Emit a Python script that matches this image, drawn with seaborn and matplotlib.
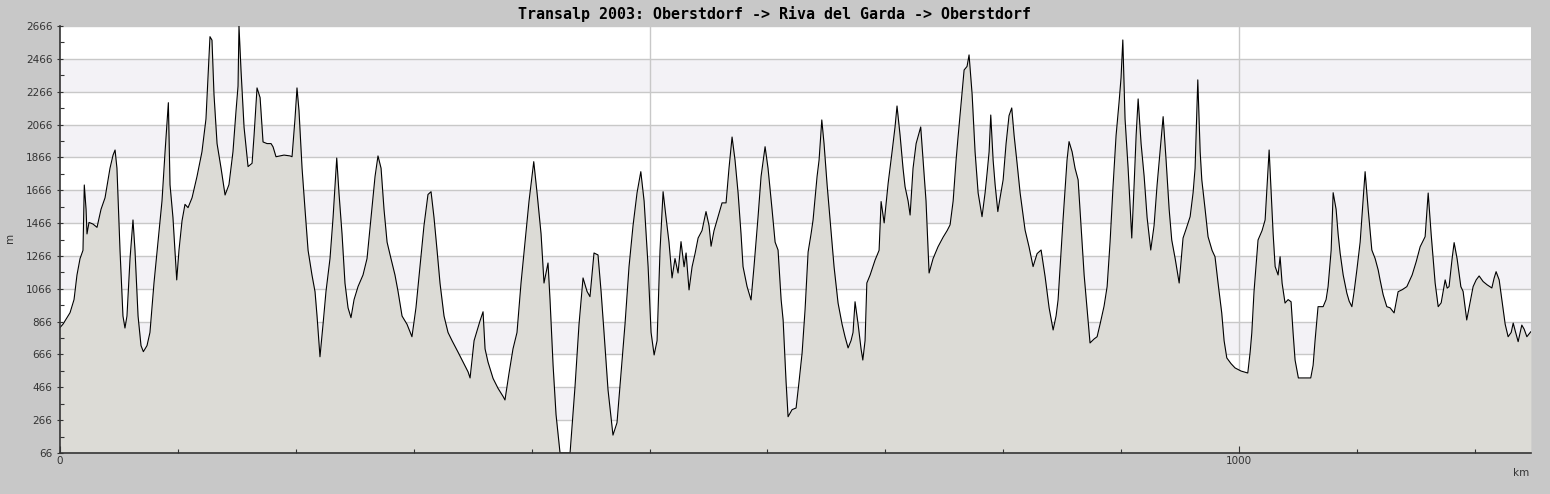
import numpy as np
import pandas as pd
import matplotlib
matplotlib.use("Agg")
import matplotlib.pyplot as plt
import seaborn as sns

# distance along the route (km) and elevation (m)
distance_km = [
    0, 2.5, 5.1, 8.5, 11.9, 14.4, 17.0, 19.5, 20.6, 22.1, 22.9, 24.6, 28.0, 31.4, 34.8, 38.2,
    42.4, 45.0, 46.7, 48.3, 50.9, 53.4, 55.1, 56.8, 59.4, 61.9, 63.6, 66.2, 68.7, 70.7, 73.8,
    76.3, 79.7, 83.1, 86.5, 89.1, 91.9, 93.3, 95.8, 99.0, 100.9, 103.5, 106.0, 108.6, 112.0,
    116.2, 120.4, 123.8, 125.5, 127.2, 128.9, 130.6, 133.2, 136.6, 140.0, 143.3, 146.7, 149.3,
    151.0, 151.8, 153.5, 156.1, 159.5, 162.9, 164.6, 167.1, 169.7, 172.2, 175.6, 179.0, 180.7,
    183.2, 190.0, 195.1, 196.8, 199.3, 201.0, 202.7, 205.3, 207.8, 210.4, 213.7, 216.3, 218.0,
    220.5, 223.1, 225.6, 229.0, 231.6, 234.7, 236.6, 239.2, 241.7, 244.3, 246.8, 249.4, 252.8,
    257.0, 260.4, 263.8, 267.2, 269.7, 272.3, 274.8, 277.4, 280.7, 284.1, 286.7, 290.1, 294.3,
    298.5, 301.9, 305.3, 308.7, 312.1, 314.7, 317.2, 319.8, 322.3, 325.7, 329.1, 332.5, 337.6,
    341.8, 346.1, 347.8, 351.2, 354.5, 356.2, 358.8, 360.5, 363.0, 367.3, 371.5, 375.8, 377.4,
    380.8, 384.2, 387.6, 391.0, 394.4, 397.8, 401.8, 404.6, 408.0, 410.5, 413.9, 415.6, 418.2,
    420.7, 424.1, 432.6, 436.8, 440.2, 443.6, 447.0, 449.5, 452.9, 456.3, 458.9, 461.4, 464.8,
    469.0, 472.4, 475.8, 479.2, 482.6, 486.0, 489.4, 492.6, 495.4, 498.8, 501.3, 503.9, 506.4,
    508.9, 511.5, 514.0, 516.5, 519.1, 521.6, 524.2, 526.7, 529.3, 531.0, 533.5, 536.1, 538.6,
    541.2, 544.5, 547.9, 550.5, 552.2, 554.7, 557.3, 561.5, 564.9, 567.4, 570.0, 572.5, 575.1,
    577.6, 579.3, 582.7, 586.1, 588.6, 592.0, 594.6, 598.0, 600.5, 603.9, 606.5, 609.0, 611.6,
    613.3, 615.8, 617.5, 620.9, 624.3, 626.8, 629.4, 631.9, 634.5, 637.0, 638.7, 642.1, 643.8,
    646.1, 648.0, 650.6, 653.1, 656.5, 659.9, 663.3, 665.8, 668.4, 670.9, 672.6, 674.3, 676.9,
    679.4, 680.9, 682.8, 684.3, 687.1, 691.3, 694.7, 696.4, 699.0, 702.4, 705.7, 708.2, 709.9,
    712.5, 715.0, 716.7, 719.3, 721.0, 723.5, 726.1, 730.0, 732.0, 734.5, 737.1, 740.5, 744.7,
    749.0, 752.4, 754.9, 757.5, 760.0, 761.7, 764.3, 766.8, 769.3, 771.0, 773.6, 776.1, 778.7,
    782.0, 784.6, 786.3, 788.0, 789.4, 791.4, 793.1, 795.4, 797.3, 799.9, 802.4, 804.9, 807.2,
    809.2, 811.7, 814.3, 818.5, 821.9, 825.3, 828.7, 832.1, 835.5, 838.9, 842.3, 844.8, 846.5,
    849.1, 850.7, 852.4, 854.1, 855.8, 858.4, 860.9, 863.5, 866.0, 868.6, 871.9, 873.6, 877.0,
    879.6, 882.1, 885.5, 888.1, 890.6, 893.1, 895.7, 898.2, 899.9, 901.4, 903.3, 905.9, 909.0,
    911.0, 912.7, 914.4, 916.9, 919.5, 922.0, 925.1, 927.9, 930.5, 933.0, 935.6, 938.1, 940.7,
    942.9, 945.8, 949.2, 952.5, 955.1, 958.5, 961.0, 962.7, 965.0, 967.0, 968.4, 971.2, 973.7,
    977.1, 979.6, 982.2, 985.3, 987.3, 989.6, 993.2, 996.6, 1001.7, 1007.4, 1009.4, 1010.8,
    1012.7, 1016.1, 1019.5, 1022.1, 1023.8, 1025.5, 1027.2, 1028.9, 1030.6, 1033.1, 1034.8,
    1036.5, 1039.0, 1041.6, 1044.1, 1045.8, 1047.5, 1050.3, 1060.8, 1062.8, 1064.5, 1067.0,
    1071.3, 1073.8, 1075.5, 1078.1, 1079.8, 1082.3, 1084.0, 1085.7, 1088.3, 1091.4, 1093.4,
    1095.7, 1097.6, 1099.9, 1102.7, 1105.2, 1106.9, 1109.5, 1112.6, 1115.4, 1118.0, 1119.6,
    1122.2, 1125.3, 1128.1, 1131.5, 1134.9, 1138.3, 1142.3, 1146.8, 1150.2, 1153.6, 1157.8,
    1160.4, 1162.9, 1164.6, 1166.3, 1168.9, 1171.4, 1174.8, 1176.5, 1178.1, 1180.7, 1182.4,
    1184.9, 1188.1, 1190.0, 1193.1, 1195.1, 1198.5, 1201.1, 1203.6, 1207.0, 1210.4, 1214.4,
    1216.3, 1218.0, 1220.6, 1224.0, 1225.7, 1228.2, 1230.8, 1232.5, 1234.2, 1236.7, 1239.8,
    1241.8, 1244.1, 1247.5,
]

elevation_m = [
    830, 850, 880, 920, 1000, 1150, 1250, 1300, 1698, 1550, 1400, 1470, 1460, 1440, 1550, 1620,
    1800, 1880, 1911, 1800, 1300, 900, 827, 900, 1250, 1485, 1300, 900, 720, 683, 720,
    800, 1100, 1350, 1600, 1900, 2199, 1700, 1500, 1120, 1300, 1480, 1580, 1560, 1620,
    1750, 1900, 2100, 2350, 2601, 2580, 2250, 1950, 1800, 1637, 1700, 1900, 2150,
    2300, 2666, 2400, 2050, 1810, 1830, 2000, 2289, 2230, 1960, 1950, 1950, 1930,
    1870, 1880, 1875, 1870, 2100, 2289, 2150, 1800, 1550, 1300, 1150, 1048, 900,
    652, 850, 1050, 1250, 1500, 1862, 1650, 1400, 1100, 950, 890, 1000, 1080,
    1150, 1250, 1500, 1750, 1875, 1800, 1550, 1350, 1250, 1150, 1050, 900, 850,
    774, 950, 1200, 1450, 1640, 1657, 1500, 1300, 1100, 900, 800, 750, 680,
    620, 560, 523, 750, 830, 870, 926, 700, 620, 520, 460, 410, 389,
    550, 700, 800, 1100, 1350, 1600, 1840, 1650, 1400, 1101, 1223, 1000, 600,
    300, 66, 66, 470, 850, 1132, 1050, 1018, 1284, 1272, 1050, 800, 450,
    175, 250, 550, 850, 1200, 1450, 1650, 1779, 1600, 1200, 800, 663, 750,
    1300, 1657, 1500, 1350, 1132, 1250, 1162, 1353, 1200, 1284, 1059, 1200, 1280,
    1375, 1420, 1536, 1450, 1325, 1420, 1485, 1589, 1589, 1800, 1990, 1850, 1650,
    1400, 1201, 1080, 998, 1200, 1500, 1750, 1931, 1800, 1550, 1350, 1302, 1000,
    876, 500, 287, 330, 340, 500, 675, 937, 1290, 1400, 1485, 1750, 1850,
    2094, 1950, 1700, 1485, 1200, 979, 850, 774, 706, 750, 800, 987, 850,
    700, 632, 750, 1101, 1150, 1241, 1300, 1597, 1467, 1710, 1900, 2050, 2179,
    2000, 1800, 1688, 1600, 1515, 1800, 1950, 2051, 1850, 1600, 1162, 1250, 1322,
    1380, 1420, 1455, 1600, 1850, 1992, 2200, 2398, 2420, 2490, 2250, 1900, 1649,
    1505, 1650, 1771, 1900, 2124, 1850, 1700, 1536, 1620, 1729, 1950, 2120, 2167,
    2000, 1832, 1650, 1424, 1320, 1201, 1280, 1302, 1140, 950, 815, 900, 998,
    1300, 1485, 1668, 1850, 1962, 1900, 1800, 1729, 1450, 1150, 876, 736, 760,
    774, 850, 960, 1079, 1350, 1688, 2000, 2200, 2350, 2581, 2100, 1800, 1375,
    1700, 2000, 2222, 1950, 1750, 1500, 1302, 1450, 1700, 1900, 2114, 1850, 1550,
    1363, 1250, 1101, 1375, 1430, 1505, 1650, 1800, 2338, 1900, 1729, 1550, 1383,
    1300, 1261, 1100, 919, 750, 645, 610, 584, 565, 553, 680, 797,
    1050, 1363, 1420, 1485, 1700, 1911, 1650, 1400, 1201, 1150, 1261,
    1100, 979, 1000, 987, 800, 632, 523, 523, 600, 754, 957,
    957, 1000, 1079, 1300, 1651, 1550, 1400, 1284, 1150, 1040, 990,
    957, 1050, 1180, 1350, 1600, 1779, 1550, 1302, 1250, 1180, 1120,
    1030, 957, 950, 919, 1048, 1060, 1079, 1150, 1230, 1322, 1383,
    1649, 1400, 1250, 1101, 957, 980, 1120, 1070, 1079, 1250, 1347,
    1250, 1079, 1050, 876, 950, 1079, 1120, 1144, 1110, 1090, 1071,
    1130, 1170, 1120, 937, 850, 774, 800, 857, 810, 744, 845,
    820, 774, 805,
]

y_ticks = list(range(66, 2667, 200))
x_labels = [0, 1000]
title = "Transalp 2003: Oberstdorf -> Riva del Garda -> Oberstdorf"

profile = pd.DataFrame({"km": distance_km, "m": elevation_m})

sns.set_style("white")
plt.rcParams["font.family"] = ["DejaVu Sans"]

fig = plt.figure(figsize=(15.5, 4.94), dpi=100, facecolor="#c8c8c8")
ax = fig.add_axes([60 / 1550, 1 - 453 / 494, 1471 / 1550, 427 / 494])
ax.set_facecolor("white")
ax.set_axisbelow(False)  # keep ticks above the filled profile

# alternating bands and grid
for i in range(len(y_ticks) - 1):
    if i % 2 == 1:
        ax.axhspan(y_ticks[i], y_ticks[i + 1], color="#f3f2f6", lw=0, zorder=0)
for yt in y_ticks:
    ax.axhline(yt, color="#c8c8c8", lw=1, zorder=0.5)
for xv in [500, 1000]:
    ax.axvline(xv, color="#c8c8c8", lw=1, zorder=0.5)

ax.fill_between(profile["km"], profile["m"], 66, color="#dcdbd6", lw=0, zorder=1)
sns.lineplot(data=profile, x="km", y="m", ax=ax, color="black", lw=0.8,
             estimator=None, sort=False, zorder=2)

ax.set_xlim(0, 1247.6)
ax.set_ylim(66, 2666)
ax.set_yticks(y_ticks)
ax.set_yticks([v + 100 for v in y_ticks[:-1]], minor=True)
ax.set_xticks(x_labels)
ax.set_xticks([v for v in range(100, 1248, 100) if v not in x_labels], minor=True)

ax.tick_params(axis="y", which="major", direction="inout", length=5, width=0.8,
               labelsize=7.5, labelcolor="#333333", color="#333333", pad=3, left=True)
ax.tick_params(axis="y", which="minor", direction="in", length=3, width=0.8,
               color="#333333", left=True)
ax.tick_params(axis="x", which="major", direction="in", length=5, width=0.8,
               labelsize=7.5, labelcolor="#333333", color="#333333", pad=2, bottom=True)
ax.tick_params(axis="x", which="minor", direction="in", length=3, width=0.8,
               color="#333333", bottom=True)

for side in ["top", "right"]:
    ax.spines[side].set_visible(False)
for side in ["left", "bottom"]:
    ax.spines[side].set_color("#333333")
    ax.spines[side].set_linewidth(1.2)

ax.set_xlabel("")
ax.set_ylabel("")
fig.text(10 / 1550, 1 - 238 / 494, "m", rotation=90, ha="center", va="center",
         fontsize=7.5, color="#333333")
fig.text(1529 / 1550, 1 - 473 / 494, "km", ha="right", va="center",
         fontsize=7.5, color="#333333")
fig.text(775 / 1550, 1 - 14 / 494, title, ha="center", va="center",
         fontsize=10.8, family="DejaVu Sans Mono", weight="bold", color="black")

fig.savefig("out.png", dpi=100, facecolor=fig.get_facecolor())
